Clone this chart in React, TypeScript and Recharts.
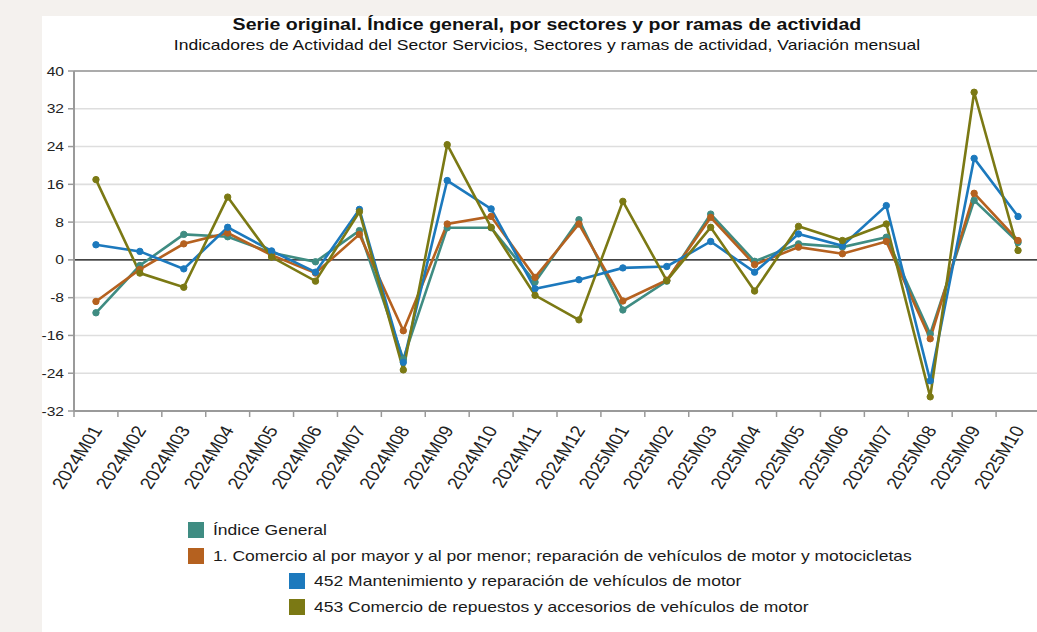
import React from "react";
import {
	CartesianGrid,
	Line,
	LineChart,
	ReferenceLine,
	XAxis,
	YAxis,
} from "recharts";

const months = [
	"2024M01", "2024M02", "2024M03", "2024M04", "2024M05", "2024M06",
	"2024M07", "2024M08", "2024M09", "2024M10", "2024M11", "2024M12",
	"2025M01", "2025M02", "2025M03", "2025M04", "2025M05", "2025M06",
	"2025M07", "2025M08", "2025M09", "2025M10",
];

const indiceGeneral = [
	-11.2, -1.2, 5.4, 4.9, 1.5, -0.4, 6.2, -21.0, 6.8, 6.8, -4.7, 8.5,
	-10.6, -4.5, 9.7, -0.3, 3.4, 2.7, 4.8, -15.7, 12.6, 3.7,
];
const comercio = [
	-8.8, -2.0, 3.4, 5.7, 1.0, -2.8, 5.4, -15.0, 7.6, 9.2, -3.7, 7.6,
	-8.7, -4.3, 9.0, -1.0, 2.7, 1.3, 3.9, -16.7, 14.1, 4.1,
];
const mantenimiento = [
	3.2, 1.8, -1.9, 6.9, 1.9, -2.6, 10.7, -21.7, 16.8, 10.8, -6.1, -4.2,
	-1.7, -1.4, 3.9, -2.6, 5.5, 3.0, 11.5, -25.6, 21.5, 9.2,
];
const repuestos = [
	17.0, -2.8, -5.8, 13.3, 0.6, -4.5, 10.2, -23.3, 24.4, 6.9, -7.5, -12.7,
	12.4, -4.4, 6.9, -6.6, 7.1, 4.1, 7.6, -29.0, 35.5, 2.0,
];

const yTicks = [-32, -24, -16, -8, 0, 8, 16, 24, 32, 40];

const seriesNames = [
	"Índice General",
	"1. Comercio al por mayor y al por menor; reparación de vehículos de motor y motocicletas",
	"452 Mantenimiento y reparación de vehículos de motor",
	"453 Comercio de repuestos y accesorios de vehículos de motor",
];
const seriesKeys = ["general", "comercio", "mantenimiento", "repuestos"];

const COLORS = ["#3f8c82", "#b5611f", "#1c79bd", "#7b7914"];
const LEGEND_INDENT = [188, 188, 289, 289];
const STRETCH = 1.2;
const FONT = "'Liberation Sans', Arial, sans-serif";

const data = months.map((mes, i) => ({
	mes,
	general: indiceGeneral[i],
	comercio: comercio[i],
	mantenimiento: mantenimiento[i],
	repuestos: repuestos[i],
}));

const ValueTick = (props: any) => {
	const { x, y, payload } = props;
	return (
		<text
			transform={`translate(${x},${y}) scale(${STRETCH},1)`}
			textAnchor="end"
			dy="0.35em"
			fontSize={13}
			fill="#222"
			fontFamily={FONT}
		>
			{payload.value}
		</text>
	);
};

const MonthTick = (props: any) => {
	const { x, y, payload } = props;
	// tick marks sit between the categories, labels under the centre
	const band = (props.width ?? 966) / months.length;
	const bx = x + band / 2;
	return (
		<g>
			<line x1={bx} y1={y} x2={bx} y2={y + 6} stroke="#999" strokeWidth={1.5} />
			{props.index === 0 && (
				<line x1={x - band / 2} y1={y} x2={x - band / 2} y2={y + 6} stroke="#999" strokeWidth={1.5} />
			)}
			<text
				transform={`translate(${x + 7},${y + 19}) scale(${STRETCH},1) rotate(-61)`}
				textAnchor="end"
				fontSize={16.5}
				fill="#222"
				fontFamily={FONT}
			>
				{payload.value}
			</text>
		</g>
	);
};

const LegendBlock = () => (
	<>
		{seriesNames.map((name, i) => (
			<div
				key={name}
				style={{
					position: "absolute",
					left: LEGEND_INDENT[i],
					top: 521 + i * 25.7,
					height: 18,
					display: "flex",
					alignItems: "center",
					whiteSpace: "nowrap",
				}}
			>
				<span
					style={{
						display: "inline-block",
						width: 16,
						height: 16,
						background: COLORS[i],
						marginRight: 9,
					}}
				/>
				<span
					style={{
						display: "inline-block",
						fontSize: 14.6,
						color: "#1a1a1a",
						transform: `scaleX(${STRETCH})`,
						transformOrigin: "left center",
					}}
				>
					{name}
				</span>
			</div>
		))}
	</>
);

const App: React.FC = () => {
	return (
		<div
			style={{
				position: "absolute",
				left: 0,
				top: 0,
				width: 1037,
				height: 632,
				overflow: "hidden",
				background: "#f4f1ee",
				fontFamily: FONT,
			}}
		>
			<div
				style={{
					position: "absolute",
					left: 42,
					top: 16,
					width: 995,
					height: 616,
					background: "#fff",
				}}
			/>
			<div
				style={{
					position: "absolute",
					left: 0,
					top: 14,
					width: 1094,
					textAlign: "center",
					lineHeight: "20px",
				}}
			>
				<span
					style={{
						display: "inline-block",
						fontSize: 16.3,
						fontWeight: "bold",
						color: "#111",
						transform: `scaleX(${STRETCH})`,
					}}
				>
					Serie original. Índice general, por sectores y por ramas de actividad
				</span>
			</div>
			<div
				style={{
					position: "absolute",
					left: 0,
					top: 36,
					width: 1094,
					textAlign: "center",
					lineHeight: "18px",
				}}
			>
				<span
					style={{
						display: "inline-block",
						fontSize: 14.6,
						color: "#111",
						transform: `scaleX(${STRETCH})`,
					}}
				>
					Indicadores de Actividad del Sector Servicios, Sectores y ramas de actividad, Variación mensual
				</span>
			</div>
			<div style={{ position: "absolute", left: 0, top: 0 }}>
				<LineChart
					width={1046}
					height={632}
					data={data}
					margin={{ top: 71, right: 6, bottom: 121, left: 0 }}
				>
					<CartesianGrid
						horizontal
						vertical={false}
						stroke="#dedede"
						strokeWidth={1.6}
					/>
					<XAxis
						dataKey="mes"
						scale="band"
						interval={0}
						height={100}
						tickSize={0}
						tickMargin={0}
						tickLine={false}
						axisLine={{ stroke: "#9a9a9a", strokeWidth: 2 }}
						tick={<MonthTick />}
					/>
					<YAxis
						domain={[-32, 40]}
						ticks={yTicks}
						width={74}
						tickSize={6}
						tickMargin={4}
						tickLine={{ stroke: "#9a9a9a", strokeWidth: 1.5 }}
						axisLine={{ stroke: "#9a9a9a", strokeWidth: 2 }}
						tick={<ValueTick />}
						interval={0}
					/>
					<ReferenceLine y={40} stroke="#ababab" strokeWidth={2} />
					<ReferenceLine y={0} stroke="#111" strokeWidth={1.2} />
					{seriesKeys.map((key, i) => (
						<Line
							key={key}
							type="linear"
							dataKey={key}
							name={seriesNames[i]}
							stroke={COLORS[i]}
							strokeWidth={2.6}
							dot={{ r: 3.2, fill: COLORS[i], stroke: COLORS[i], strokeWidth: 1 }}
							activeDot={false}
							isAnimationActive={false}
						/>
					))}
				</LineChart>
			</div>
			<LegendBlock />
		</div>
	);
};

export default App;
